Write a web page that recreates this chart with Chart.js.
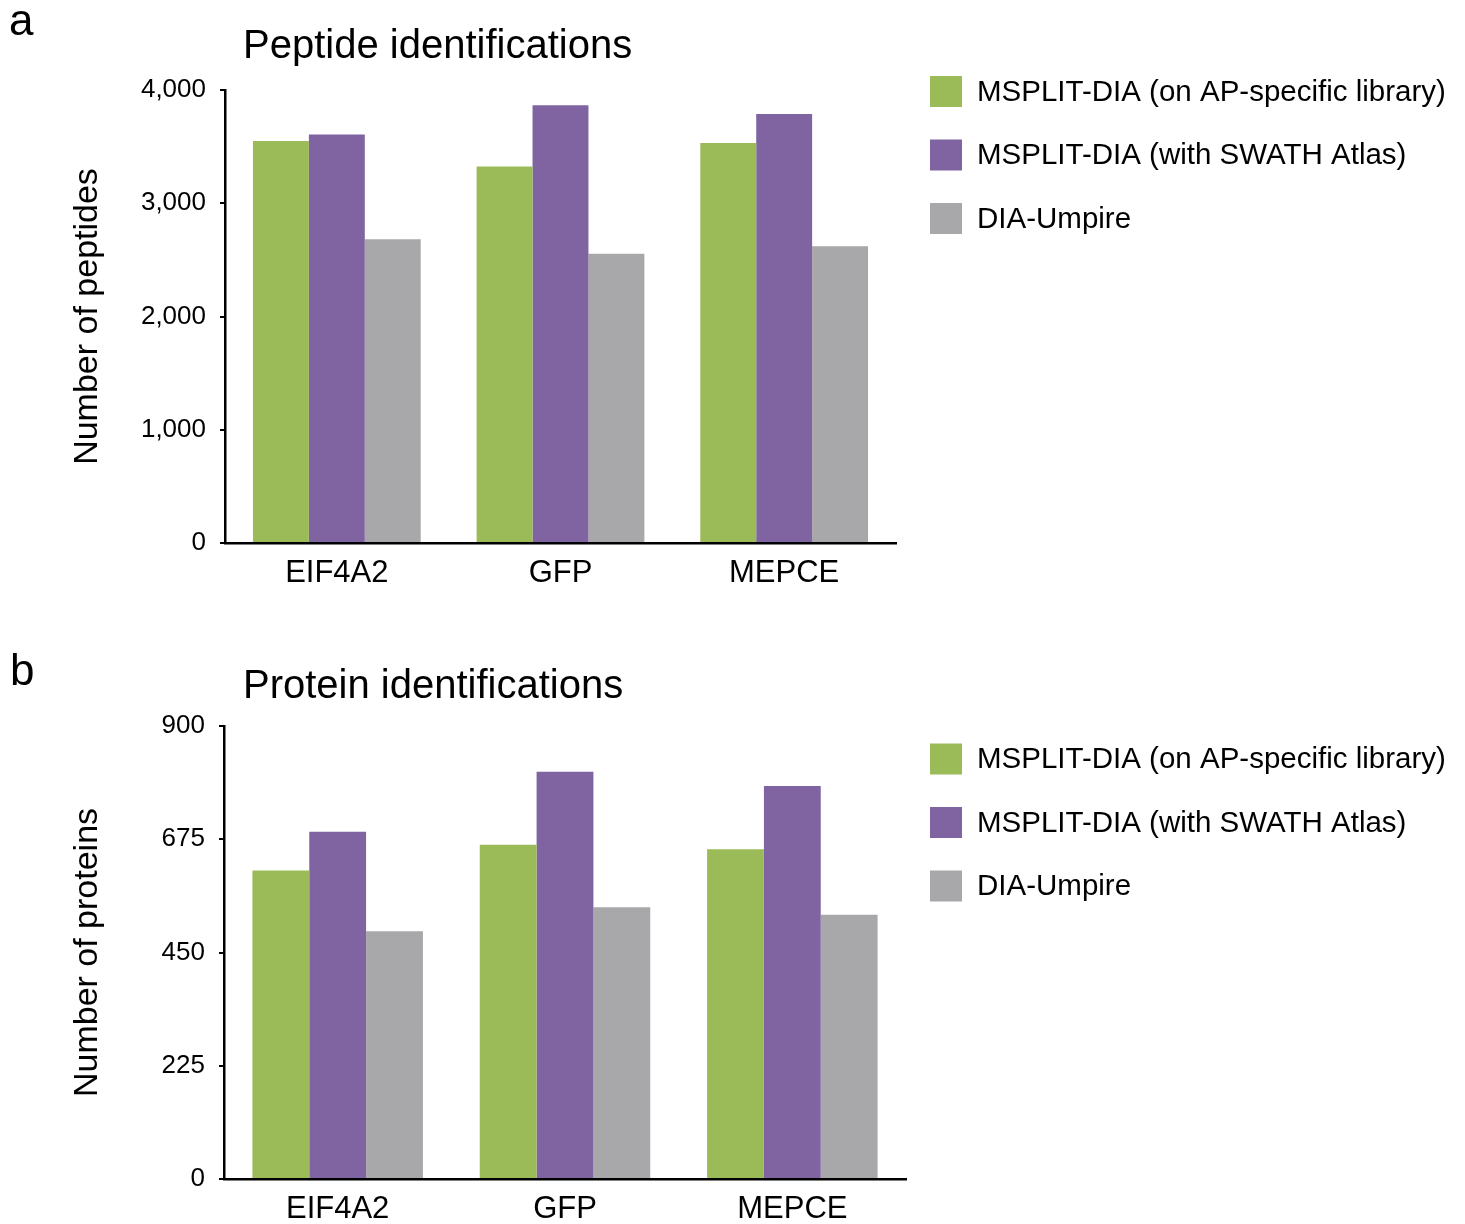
<!DOCTYPE html>
<html>
<head>
<meta charset="utf-8">
<script src="https://cdn.jsdelivr.net/npm/chart.js@4/dist/chart.umd.min.js"></script>
<style>
  html, body { margin: 0; padding: 0; background: #fff; }
  #page { position: relative; width: 1465px; height: 1224px; overflow: hidden; }
  .panel { position: absolute; left: 0; }
  canvas { display: block; }
</style>
</head>
<body>
<div id="page">
  <div class="panel" style="top:0"><canvas id="peptides" width="1465" height="610"></canvas></div>
  <div class="panel" style="top:610px"><canvas id="proteins" width="1465" height="614"></canvas></div>
</div>
<script>
// Categories and series
const categories = ['EIF4A2', 'GFP', 'MEPCE'];
const seriesNames = [
  'MSPLIT-DIA (on AP-specific library)',
  'MSPLIT-DIA (with SWATH Atlas)',
  'DIA-Umpire'
];
const seriesColors = ['#9bbb59', '#8064a2', '#a8a7a9'];

// Peptide identifications
const peptideOnLibrary = [3550, 3324, 3532];
const peptideWithAtlas = [3606, 3865, 3788];
const peptideUmpire    = [2682, 2553, 2621];
const peptideTicks     = [0, 1000, 2000, 3000, 4000];

// Protein identifications
const proteinOnLibrary = [613, 664, 655];
const proteinWithAtlas = [690, 809, 781];
const proteinUmpire    = [492, 540, 525];
const proteinTicks     = [0, 225, 450, 675, 900];

const FAMILY = "'Liberation Sans', Arial, Helvetica, sans-serif";
Chart.defaults.font.family = FAMILY;
Chart.defaults.color = '#000';

// Panel letter, heading and legend drawn on the chart canvas
const decor = {
  id: 'decor',
  afterDraw(chart, args, o) {
    const ctx = chart.ctx;
    ctx.save();
    ctx.fillStyle = '#000';
    ctx.textAlign = 'left';
    ctx.textBaseline = 'alphabetic';
    ctx.font = '44px ' + FAMILY;
    ctx.fillText(o.letter, o.letterX, o.letterY);
    ctx.font = '40px ' + FAMILY;
    ctx.fillText(o.title, o.titleX, o.titleY);
    ctx.font = '29.5px ' + FAMILY;
    ctx.textBaseline = 'middle';
    chart.data.datasets.forEach((ds, i) => {
      const cy = o.legendY + i * o.legendGap;
      ctx.fillStyle = ds.backgroundColor;
      ctx.fillRect(o.legendX, cy - 15.5, 32, 31);
      ctx.fillStyle = '#000';
      ctx.fillText(ds.label, o.legendX + 47, cy + 1);
    });
    ctx.restore();
  }
};

function makeChart(id, values, ticks, axisTitle, area, deco) {
  const canvas = document.getElementById(id);
  const W = canvas.width, H = canvas.height;
  return new Chart(canvas, {
    type: 'bar',
    data: {
      labels: categories,
      datasets: values.map((v, i) => ({
        label: seriesNames[i],
        data: v,
        backgroundColor: seriesColors[i],
        borderWidth: 0,
        categoryPercentage: 0.75,
        barPercentage: 1.0
      }))
    },
    options: {
      responsive: false,
      animation: false,
      devicePixelRatio: 1,
      layout: { padding: { left: 0, top: area.top, right: W - area.right, bottom: 0 } },
      plugins: {
        legend: { display: false },
        title: { display: false },
        tooltip: { enabled: false },
        decor: deco
      },
      scales: {
        x: {
          grid: { drawOnChartArea: false, drawTicks: false },
          border: { display: true, color: '#000', width: 2.5 },
          ticks: { font: { size: 31 }, color: '#000', padding: 12 },
          afterFit(scale) { scale.height = H - area.bottom; }
        },
        y: {
          min: ticks[0],
          max: ticks[ticks.length - 1],
          afterBuildTicks(scale) { scale.ticks = ticks.map(v => ({ value: v })); },
          grid: { drawOnChartArea: false, drawTicks: true, tickLength: 5, color: '#000', lineWidth: 2 },
          border: { display: true, color: '#000', width: 2.5 },
          ticks: {
            font: { size: 26 }, color: '#000', padding: 14,
            callback: v => v.toLocaleString('en-US')
          },
          title: {
            display: true, text: axisTitle, color: '#000',
            font: { size: 34 }, padding: { top: 67, bottom: 0 }
          },
          afterFit(scale) { scale.width = area.left; }
        }
      }
    },
    plugins: [decor]
  });
}

makeChart('peptides',
  [peptideOnLibrary, peptideWithAtlas, peptideUmpire],
  peptideTicks, 'Number of peptides',
  { left: 225, top: 90, right: 896, bottom: 543 },
  { letter: 'a', letterX: 9, letterY: 35, title: 'Peptide identifications', titleX: 243, titleY: 58,
    legendX: 930, legendY: 91.5, legendGap: 63.5 });

makeChart('proteins',
  [proteinOnLibrary, proteinWithAtlas, proteinUmpire],
  proteinTicks, 'Number of proteins',
  { left: 224, top: 116, right: 906, bottom: 569 },
  { letter: 'b', letterX: 10, letterY: 75, title: 'Protein identifications', titleX: 243, titleY: 88,
    legendX: 930, legendY: 149, legendGap: 63.5 });
</script>
</body>
</html>
